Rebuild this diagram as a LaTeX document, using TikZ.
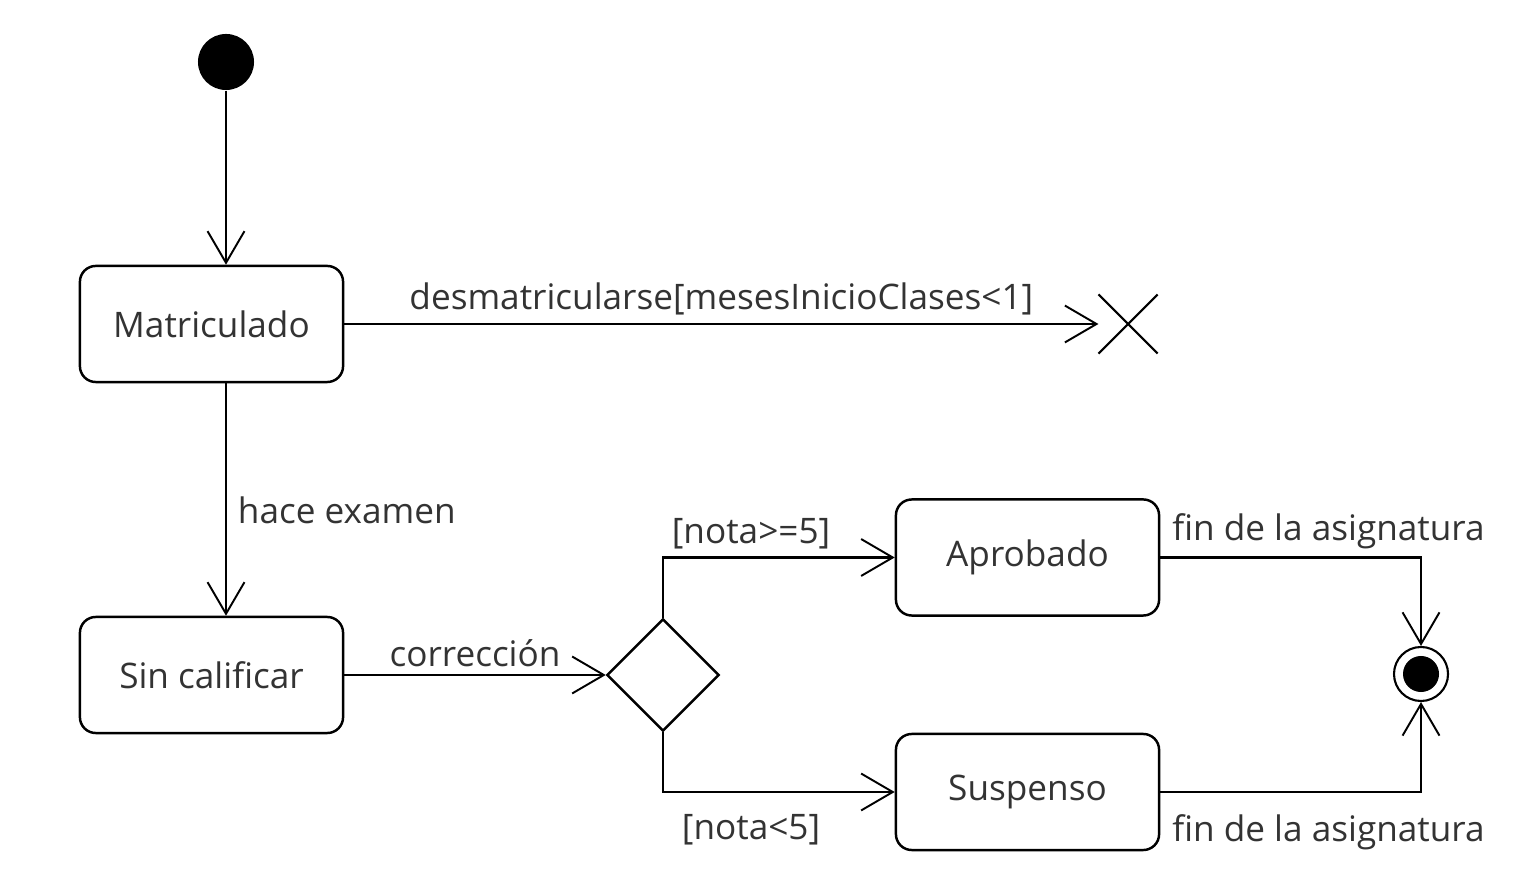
\documentclass[tikz,border=0pt]{standalone}
\usepackage{fontspec}
\setmainfont{Open Sans}
\usetikzlibrary{calc, shapes.geometric, shapes.misc, arrows.meta}
\definecolor{stext}{HTML}{333333}

\begin{document}
\begin{tikzpicture}[x=0.01cm, y=-0.01cm, font=\fontsize{10pt}{12pt}\selectfont,
    ST/.style={rectangle, draw=black, line width=0.7pt, rounded corners=4.5pt, minimum width=2.63cm, minimum height=1.16cm, text=stext},
    DEC/.style={diamond, draw=black, line width=0.7pt, minimum width=1.12cm, minimum height=1.12cm, inner sep=0pt},
    TR/.style={line width=0.8pt, -{Straight Barb[length=9pt, width=10.5pt, line width=0.55pt]}},
    LB/.style={text=stext, inner sep=2pt}
    ]
        \useasboundingbox (0,0) rectangle (1540,880);
        % states
        \node[circle, fill=black, minimum size=0.56cm, inner sep=0pt] (init) at (226,62) {};
        \node[ST] (matr) at (211.5,324) {Matriculado};
        \node[ST] (sinc) at (211.5,675) {Sin calificar};
        \node[DEC] (dec) at (663,675) {};
        \node[ST] (apro) at (1027.5,557.5) {Aprobado};
        \node[ST] (susp) at (1027.5,792) {Suspenso};
        \node[cross out, draw=black, line width=0.6pt, minimum size=0.57cm, inner sep=0pt] (term) at (1128,324) {};
        \node[circle, draw=black, line width=0.6pt, minimum size=0.54cm, inner sep=0pt] (fin) at (1421,674) {};
        \node[circle, fill=black, minimum size=0.36cm, inner sep=0pt] (finin) at (fin) {};
        % transitions
        \draw[TR] (init) -- (init |- matr.north);
        \draw[TR] (matr.east) -- node[LB, above] {desmatricularse[mesesInicioClases<1]} (term.west);
        \draw[TR] (init |- matr.south) -- node[LB, right, inner sep=3pt, yshift=-3pt] {hace examen} (init |- sinc.north);
        \draw[TR] (sinc.east) -- node[LB, above] {corrección} (dec.west);
        \draw[TR] (dec.north) |- node[LB, above, pos=0.69] {[nota>=5]} (apro.west);
        \draw[TR] (dec.south) |- node[LB, below=4pt, pos=0.69] {[nota<5]} (susp.west);
        \draw[TR] (apro.east) -| node[LB, above right, pos=0, xshift=1pt] {fin de la asignatura} (fin.north);
        \draw[TR] (susp.east) -| node[LB, below right, pos=0, xshift=1pt, yshift=-4pt] {fin de la asignatura} (fin.south);
    \end{tikzpicture}
\end{document}
